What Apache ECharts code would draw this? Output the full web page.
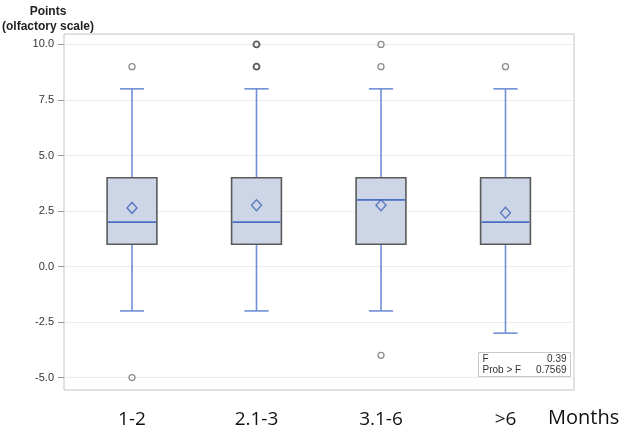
<!DOCTYPE html>
<html>
<head>
<meta charset="utf-8">
<script src="https://cdn.jsdelivr.net/npm/echarts@6/dist/echarts.min.js"></script>
<style>html,body{margin:0;padding:0;background:#fff}#c{width:629px;height:441px}</style>
</head>
<body>
<div id="c"></div>
<script>
const categories = ['1-2', '2.1-3', '3.1-6', '>6'];
// [min whisker, Q1, median, Q3, max whisker]
const boxValues = [
  [-2, 1, 2, 4, 8],
  [-2, 1, 2, 4, 8],
  [-2, 1, 3, 4, 8],
  [-3, 1, 2, 4, 8]
];
const means = [2.64, 2.76, 2.76, 2.42];
const outliers = [[0, 9], [0, -5], [2, 10], [2, 9], [2, -4], [3, 9]];
const outliersRepeated = [[1, 10], [1, 9]];
const yTicks = [-5, -2.5, 0, 2.5, 5, 7.5, 10];
const statLabels = ['F', 'Prob > F'];
const statValues = ['0.39', '0.7569'];

const chart = echarts.init(document.getElementById('c'));
const boxData = boxValues.map((b, i) => [i].concat(b));
const meanData = means.map((m, i) => [i, m]);
const Y_MIN = -5.56, Y_MAX = 10.47;
const WHISKER = '#6f8fd6', MEDIAN = '#4a6fc4', BOXFILL = '#ccd6e6', BOXLINE = '#5a5a5a';

chart.setOption({
  animation: false,
  backgroundColor: '#fff',
  title: [
    { text: 'Points\n(olfactory scale)', left: 48, top: 4, padding: 0, textAlign: 'center',
      textStyle: { fontFamily: 'Liberation Sans', fontSize: 12, fontWeight: 'bold', color: '#222', lineHeight: 15, align: 'center' } },
    { text: 'Months', left: 548, top: 408, padding: 0,
      textStyle: { fontFamily: 'Open Sans', fontSize: 20, fontWeight: 'normal', color: '#111' } }
  ],
  grid: [
    { left: 64, right: 55, top: 34, bottom: 51, show: true, borderColor: '#c4c4c4', borderWidth: 1, backgroundColor: 'transparent' },
    { left: 69.75, right: 61.25, top: 34, bottom: 51 }
  ],
  xAxis: [
    { gridIndex: 0, type: 'value', min: 0, max: 1, show: false },
    { gridIndex: 1, type: 'category', data: categories,
      axisLine: { show: false },
      axisTick: { show: true, alignWithLabel: true, length: 5, lineStyle: { color: '#aaa' } },
      axisLabel: { margin: 20, fontFamily: 'Open Sans', fontSize: 19, color: '#111' },
      splitLine: { show: false } }
  ],
  yAxis: [
    { gridIndex: 0, type: 'value', min: Y_MIN, max: Y_MAX,
      axisLine: { show: false },
      axisTick: { show: true, length: 6, customValues: yTicks, lineStyle: { color: '#999' } },
      axisLabel: { customValues: yTicks, margin: 10, fontFamily: 'Liberation Sans', fontSize: 11, color: '#333',
        formatter: v => Number(v).toFixed(1) },
      splitLine: { show: true, lineStyle: { color: '#ececec', width: 1 } } },
    { gridIndex: 1, type: 'value', min: Y_MIN, max: Y_MAX, show: false, splitLine: { show: false } }
  ],
  series: [
    {
      type: 'custom', xAxisIndex: 1, yAxisIndex: 1, data: boxData,
      encode: { x: 0, y: [1, 2, 3, 4, 5] },
      renderItem: function (params, api) {
        const x = api.value(0);
        const bw = api.size([1, 0])[0];
        const bh = bw * 0.2, ch = bw * 0.097;
        const pMin = api.coord([x, api.value(1)]);
        const pQ1 = api.coord([x, api.value(2)]);
        const pMed = api.coord([x, api.value(3)]);
        const pQ3 = api.coord([x, api.value(4)]);
        const pMax = api.coord([x, api.value(5)]);
        const cx = pMin[0];
        const ws = { stroke: WHISKER, lineWidth: 1.6 };
        return { type: 'group', children: [
          { type: 'line', shape: { x1: cx, y1: pMin[1], x2: cx, y2: pQ1[1] }, style: ws },
          { type: 'line', shape: { x1: cx, y1: pQ3[1], x2: cx, y2: pMax[1] }, style: ws },
          { type: 'line', shape: { x1: cx - ch, y1: pMin[1], x2: cx + ch, y2: pMin[1] }, style: ws },
          { type: 'line', shape: { x1: cx - ch, y1: pMax[1], x2: cx + ch, y2: pMax[1] }, style: ws },
          { type: 'rect', shape: { x: cx - bh, y: pQ3[1], width: 2 * bh, height: pQ1[1] - pQ3[1] },
            style: { fill: BOXFILL, stroke: BOXLINE, lineWidth: 1.6 } },
          { type: 'line', shape: { x1: cx - bh + 1, y1: pMed[1], x2: cx + bh - 1, y2: pMed[1] }, style: { stroke: MEDIAN, lineWidth: 1.6 } }
        ] };
      },
      z: 2
    },
    {
      type: 'scatter', xAxisIndex: 1, yAxisIndex: 1, data: meanData,
      symbol: 'diamond', symbolSize: [10, 11],
      itemStyle: { color: 'transparent', borderColor: '#3f63b5', borderWidth: 1.4 }, z: 3
    },
    {
      type: 'scatter', xAxisIndex: 1, yAxisIndex: 1, data: outliers,
      symbol: 'circle', symbolSize: 6,
      itemStyle: { color: 'transparent', borderColor: '#707070', borderWidth: 1.3 }, z: 3
    },
    {
      type: 'scatter', xAxisIndex: 1, yAxisIndex: 1, data: outliersRepeated,
      symbol: 'circle', symbolSize: 6,
      itemStyle: { color: 'transparent', borderColor: '#303030', borderWidth: 1.8 }, z: 3
    }
  ],
  graphic: [
    { type: 'group', right: 58, bottom: 64, children: [
      { type: 'rect', shape: { x: 0, y: 0, width: 92, height: 24 }, style: { fill: '#fff', stroke: '#c8c8c8', lineWidth: 1 } },
      { type: 'text', x: 4, y: 2, style: { text: statLabels[0], fontFamily: 'Liberation Sans', fontSize: 10, fill: '#333' } },
      { type: 'text', x: 88, y: 2, style: { text: statValues[0], fontFamily: 'Liberation Sans', fontSize: 10, fill: '#333', align: 'right' } },
      { type: 'text', x: 4, y: 13, style: { text: statLabels[1], fontFamily: 'Liberation Sans', fontSize: 10, fill: '#333' } },
      { type: 'text', x: 88, y: 13, style: { text: statValues[1], fontFamily: 'Liberation Sans', fontSize: 10, fill: '#333', align: 'right' } }
    ] }
  ]
});
</script>
</body>
</html>
